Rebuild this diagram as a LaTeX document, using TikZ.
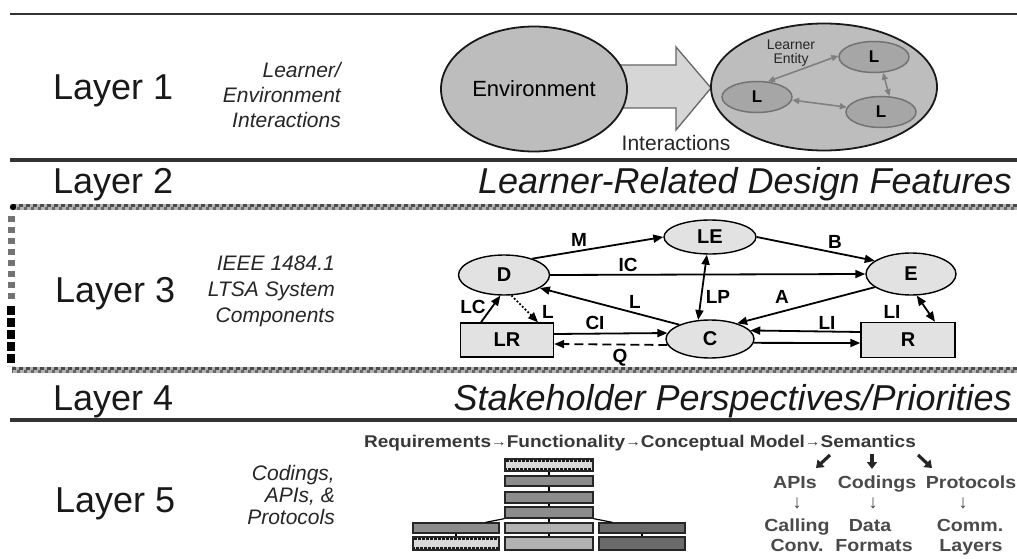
\documentclass[tikz,border=0pt]{standalone}
\usepackage{fontspec}
\setmainfont{Liberation Sans}
\newfontfamily\djv{DejaVu Sans}
\newfontfamily\wideb[FakeStretch=1.12]{Liberation Sans}
\usetikzlibrary{arrows.meta,shapes.geometric}
\definecolor{ellfill}{HTML}{BDBDBD}
\definecolor{arrfill}{HTML}{D6D6D6}
\definecolor{nfill}{HTML}{E2E2E2}
\definecolor{txtg}{HTML}{4A4A4A}
\newcommand{\sarr}{{\fontsize{14}{14}\selectfont\raisebox{0.5pt}{→}}}
\begin{document}
\begin{tikzpicture}[x=1pt,y=-1pt,
  ttl/.style={font=\fontsize{36}{40}\selectfont, inner sep=0, anchor=base west, text=black!90},
  ttli/.style={font=\fontsize{36}{40}\selectfont\itshape, inner sep=0, anchor=base east, text=black!90},
  sub/.style={font=\fontsize{21}{25}\selectfont\itshape, align=right, inner sep=0, anchor=east, text=black!85},
  bigell/.style={ellipse, draw=black!90, line width=1.8, fill=ellfill, inner sep=0},
  smell/.style={ellipse, draw=black!55, line width=1.5, fill=black!35, inner sep=0, minimum width=70, minimum height=31, font=\fontsize{17}{20}\selectfont\bfseries},
  garr/.style={{Triangle[length=7pt,width=6pt]}-{Triangle[length=7pt,width=6pt]}, draw=black!50, line width=1.6},
  n3/.style={draw=black, line width=1.4, fill=nfill, inner sep=0, font=\fontsize{20}{22}\selectfont\bfseries},
  arr/.style={-{Triangle[length=10pt,width=8pt]}, line width=1.8},
  darr/.style={{Triangle[length=10pt,width=8pt]}-{Triangle[length=10pt,width=8pt]}, line width=1.8},
  elab/.style={font=\fontsize{19}{21}\selectfont\bfseries, inner sep=0},
  sbox/.style={draw=black!85, line width=1.3, fill=black!45, inner sep=0, minimum width=88},
  sboxl/.style={sbox, fill=black!30},
  sboxd/.style={sbox, fill=black!58},
  sboxp/.style={sbox, fill=black!15},
  l5/.style={font=\wideb\fontsize{17.5}{19}\selectfont\bfseries, text=txtg, inner sep=0, anchor=base},
  l5a/.style={font=\fontsize{19}{20}\selectfont, text=txtg, inner sep=0, anchor=base},
  fatarr/.style={-{Triangle[length=7pt,width=10pt]}, line width=3.2, draw=black!85}
]
\useasboundingbox (0,0) rectangle (1017,559);
\fill[white] (0,0) rectangle (1017,559);

% ---- separators ----
\draw[line width=2.5, black!80] (10,14) -- (1017,14);
\draw[line width=4, black!80] (10,160) -- (1017,160);
\foreach \yy in {207,370}{
  \draw[line width=5.5, black!30] (12,\yy) -- (1017,\yy);
  \draw[line width=2.4, black!70, dash pattern=on 4 off 3] (12,\yy-1.5) -- (1017,\yy-1.5);
  \draw[line width=2.4, black!60, dash pattern=on 3 off 4, dash phase=2] (12,\yy+1.5) -- (1017,\yy+1.5);
}
\draw[line width=3.5, black!80] (10,420) -- (1017,420);
\fill[black] (13,207) circle (3.2);
\draw[line width=7, black!55, dash pattern=on 6 off 5] (11,216) -- (11,302);
\draw[line width=8, black, dash pattern=on 9 off 3] (11,306) -- (11,366);

% ---- Layer 1 ----
\node[ttl] (t1) at (53,100) {Layer 1};
\node[sub] (s1) at (341,95) {Learner/\\Environment\\Interactions};
\fill[arrfill, draw=black!60, line width=1.3] (610,65) -- (676,65) -- (676,47) -- (711,88) -- (676,130) -- (676,108) -- (610,108) -- cycle;
\node[bigell, minimum width=186, minimum height=125, font=\fontsize{22}{24}\selectfont] (env) at (534,89) {Environment};
\node[bigell, minimum width=226, minimum height=127] (lent) at (824,87) {};
\node[font=\fontsize{21}{24}\selectfont, inner sep=0, text=black!85] (inter) at (676,143) {Interactions};
\node[font=\fontsize{14}{17}\selectfont, align=center, inner sep=0, text=black!85] (lelab) at (791,53) {Learner\\[-3pt]Entity};
\node[smell] (La) at (757,97) {L};
\node[smell] (Lb) at (874,57) {L};
\node[smell] (Lc) at (881,112) {L};
\draw[garr] (La.55) -- (Lb.178);
\draw[garr] (La.-5) -- (Lc.172);
\draw[garr] (Lb.-60) -- (Lc.62);

% ---- Layer 2 ----
\node[ttl] (t2) at (53,193) {Layer 2};
\node[ttli] (f2) at (1012,193) {Learner-Related Design Features};

% ---- Layer 3 ----
\node[ttl] (t3) at (55,302) {Layer 3};
\node[sub, font=\fontsize{21}{26}\selectfont\itshape] (s3) at (335,291) {IEEE 1484.1\\LTSA System\\Components};
\node[n3, ellipse, minimum width=91, minimum height=40] (D) at (504,275) {D};
\node[n3, ellipse, minimum width=92, minimum height=34] (LE) at (710,237) {LE};
\node[n3, ellipse, minimum width=90, minimum height=42] (E) at (911,274) {E};
\node[n3, ellipse, minimum width=88, minimum height=38] (C) at (710,339) {C};
\node[n3, rectangle, minimum width=93, minimum height=34] (LR) at (507,340) {LR};
\node[n3, rectangle, minimum width=94, minimum height=35] (R) at (908,340) {R};
\draw[arr] (D.30) -- (LE.west);
\draw[arr] (LE.east) -- (E.160);
\draw[arr] (D.east) -- (E.west);
\draw[arr] (C.155) -- (D.-20);
\draw[darr] (LE.-100) -- (C.122);
\draw[arr] (E.200) -- (C.30);
\draw[arr] ([yshift=8pt]R.west) -- (C.12);
\draw[arr] (C.-5) -- ([yshift=-3pt]R.west);
\draw[darr] (E.-75) -- ([xshift=27pt]R.north);
\draw[arr] ([xshift=-26pt]LR.north) -- (D.-100);
\draw[arr, dotted] (D.-70) -- ([xshift=31pt]LR.north);
\draw[arr] ([yshift=6pt]LR.east) -- (C.172);
\draw[arr, dashed, dash pattern=on 9pt off 5pt] (C.188) -- ([yshift=-4pt]LR.east);
\node[elab] (lM) at (579,240) {M};
\node[elab] (lB) at (835,242) {B};
\node[elab] (lIC) at (628,265) {IC};
\node[elab] (lL) at (635,302) {L};
\node[elab] (lLP) at (718,297) {LP};
\node[elab] (lA) at (782,297) {A};
\node[elab] (lLI) at (827,323) {LI};
\node[elab] (lLI2) at (892,312) {LI};
\node[elab] (lLC) at (473,307) {LC};
\node[elab] (lL2) at (548,312) {L};
\node[elab] (lCI) at (595,323) {CI};
\node[elab] (lQ) at (620,358) {Q};

% ---- Layer 4 ----
\node[ttl] (t4) at (53,410) {Layer 4};
\node[ttli] (f4) at (1012,410) {Stakeholder Perspectives/Priorities};

% ---- Layer 5 ----
\node[ttl] (t5) at (55,512) {Layer 5};
\node[sub, font=\fontsize{21}{22}\selectfont\itshape] (s5) at (335,495) {Codings,\\APIs, \&\\Protocols};
\node[font=\wideb\fontsize{17}{18}\selectfont\bfseries, text=black!78, inner sep=0, anchor=base] (req) at (640,447)
  {Requirements\sarr Functionality\sarr Conceptual Model\sarr Semantics};

% stack
\node[sboxp, minimum height=12] (b1) at (549,465) {};
\node[sbox, minimum height=10] (b2) at (549,481) {};
\node[sbox, minimum height=11] (b3) at (549,497.5) {};
\node[sbox, minimum height=11] (b4) at (549,512.5) {};
\node[sbox, minimum width=86, minimum height=10] (c1) at (456,528) {};
\node[sboxl, minimum height=10] (c2) at (549,528) {};
\node[sboxd, minimum width=86, minimum height=10] (c3) at (642,528) {};
\node[sboxp, minimum width=86, minimum height=13] (d1) at (456,543.5) {};
\node[sboxl, minimum height=13] (d2) at (549,543.5) {};
\node[sboxd, minimum width=86, minimum height=13] (d3) at (642,543.5) {};
\foreach \bx in {b1,d1}{
  \draw[line width=2.2, black!90, dash pattern=on 2.5 off 1.5] ([shift={(2,3)}]\bx.north west) -- ([shift={(-2,3)}]\bx.north east);
  \draw[line width=2.2, black!90, dash pattern=on 2.5 off 1.5, dash phase=2] ([shift={(2,-3)}]\bx.south west) -- ([shift={(-2,-3)}]\bx.south east);
}
\draw[line width=1.2] (b1) -- (b2);
\draw[line width=1.2] (b2) -- (b3);
\draw[line width=1.2] (b3) -- (b4);
\draw[line width=1.2] (b4) -- (c2);
\draw[line width=1.2] (c2) -- (d2);
\draw[line width=1.2] (c1) -- (d1);
\draw[line width=1.2] (c3) -- (d3);
\draw[line width=1.2] (b4.south west) -- ([xshift=-14pt]c1.north east);
\draw[line width=1.2] (b4.south east) -- ([xshift=14pt]c3.north west);

% right column
\coordinate (a1s) at (830,455); \coordinate (a1e) at (816,468);
\coordinate (a2s) at (872,454); \coordinate (a2e) at (872,469);
\coordinate (a3s) at (918,455); \coordinate (a3e) at (932,468);
\draw[fatarr] (a1s) -- (a1e);
\draw[fatarr] (a2s) -- (a2e);
\draw[fatarr] (a3s) -- (a3e);
\node[l5] (apis) at (795,488) {APIs};
\node[l5] (cods) at (877,488) {Codings};
\node[l5] (prot) at (971,488) {Protocols};
\node[l5a] (da1) at (797,508) {↓};
\node[l5a] (da2) at (873,508) {↓};
\node[l5a] (da3) at (963,508) {↓};
\node[l5] (call1) at (797,531) {Calling};
\node[l5] (call2) at (797,551) {Conv.};
\node[l5] (data1) at (870,531) {Data};
\node[l5] (data2) at (874,551) {Formats};
\node[l5] (comm1) at (970,531) {Comm.};
\node[l5] (comm2) at (971,551) {Layers};
\end{tikzpicture}
\end{document}
